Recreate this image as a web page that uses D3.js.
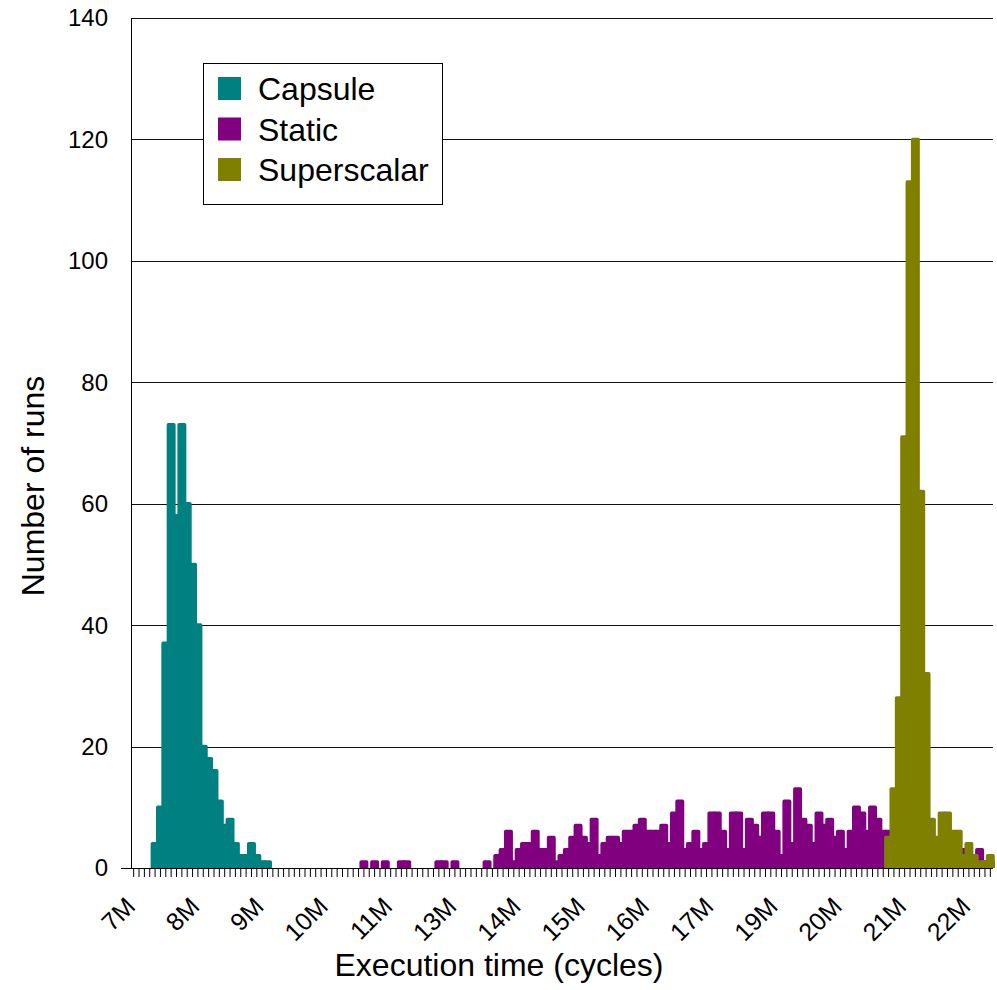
<!DOCTYPE html>
<html><head><meta charset="utf-8">
<script src="https://cdn.jsdelivr.net/npm/d3@7/dist/d3.min.js"></script>
<style>body{margin:0;background:#fff;} text{font-family:"Liberation Sans", Arial, sans-serif;fill:#000;}</style>
</head><body><svg id="chart" width="997" height="990"></svg>
<script>
// ---- data ----
const binStartM = 7.0;      // first bin start, millions of cycles
const binWidthM = 0.1;      // bin width, millions of cycles
const binCount = 161;
const categories = d3.range(binCount).map(i => (binStartM + i * binWidthM).toFixed(1));

const capsule = [
  0,0,0,0,4,10,37,73,58,73, 60,50,40,20,18,16,11,7,8,4,
  2,2,4,2,1,1,0,0,0,0, 0,0,0,0,0,0,0,0,0,0,
  0,0,0,0,0,0,0,0,0,0, 0,0,0,0,0,0,0,0,0,0,
  0,0,0,0,0,0,0,0,0,0, 0,0,0,0,0,0,0,0,0,0,
  0,0,0,0,0,0,0,0,0,0, 0,0,0,0,0,0,0,0,0,0,
  0,0,0,0,0,0,0,0,0,0, 0,0,0,0,0,0,0,0,0,0,
  0,0,0,0,0,0,0,0,0,0, 0,0,0,0,0,0,0,0,0,0,
  0,0,0,0,0,0,0,0,0,0, 0,0,0,0,0,0,0,0,0,0,
  0
];
const staticRuns = [
  0,0,0,0,0,0,0,0,0,0, 0,0,0,0,0,0,0,0,0,0,
  0,0,0,0,0,0,0,0,0,0, 0,0,0,0,0,0,0,0,0,0,
  0,0,0,1,0,1,0,1,0,0, 1,1,0,0,0,0,0,1,1,0,
  1,0,0,0,0,0,1,0,2,3, 6,1,3,4,4,6,3,3,5,1,
  2,3,5,7,5,4,8,2,4,5, 5,4,6,6,7,8,6,6,6,7,
  4,9,11,3,4,6,3,4,9,9, 6,3,9,9,3,8,7,5,9,9,
  6,2,11,4,13,8,7,4,9,7, 8,5,6,3,6,10,9,6,10,8,
  6,6,5,4,6,3,5,4,5,3, 4,5,3,4,2,3,2,1,3,1,
  1
];
const superscalar = [
  0,0,0,0,0,0,0,0,0,0, 0,0,0,0,0,0,0,0,0,0,
  0,0,0,0,0,0,0,0,0,0, 0,0,0,0,0,0,0,0,0,0,
  0,0,0,0,0,0,0,0,0,0, 0,0,0,0,0,0,0,0,0,0,
  0,0,0,0,0,0,0,0,0,0, 0,0,0,0,0,0,0,0,0,0,
  0,0,0,0,0,0,0,0,0,0, 0,0,0,0,0,0,0,0,0,0,
  0,0,0,0,0,0,0,0,0,0, 0,0,0,0,0,0,0,0,0,0,
  0,0,0,0,0,0,0,0,0,0, 0,0,0,0,0,0,0,0,0,0,
  0,5,13,28,71,113,120,62,32,8, 5,9,9,6,6,2,4,2,1,1,
  2
];
const seriesNames = ["Capsule", "Static", "Superscalar"];
const seriesColors = ["#008080", "#800080", "#808000"];
const yTicks = [0, 20, 40, 60, 80, 100, 120, 140];
const xTickLabels = ["7M","8M","9M","10M","11M","13M","14M","15M","16M","17M","19M","20M","21M","22M"];
const xLabelEvery = 12;   // one label every 12 bins
const yTitle = "Number of runs";
const xTitle = "Execution time (cycles)";

// ---- layout ----
const svg = d3.select("#chart");
const mLeft = 131, mRight = 993, mTop = 18, mBottom = 868;
const x = d3.scaleBand().domain(categories).range([mLeft, mRight]).padding(0);
const y = d3.scaleLinear().domain([0, 140]).range([mBottom, mTop]);
const bw = x.bandwidth();

// grid
svg.append("g").selectAll("line").data(yTicks.filter(d => d > 0)).join("line")
  .attr("x1", mLeft).attr("x2", mRight)
  .attr("y1", d => Math.round(y(d)) + 0.5).attr("y2", d => Math.round(y(d)) + 0.5)
  .attr("stroke", "#111").attr("stroke-width", 1);

// bars
svg.append("defs").append("clipPath").attr("id", "clipBase")
  .append("rect").attr("x", 0).attr("y", 0).attr("width", 997).attr("height", mBottom);
const series = [capsule, staticRuns, superscalar];
const gBars = svg.append("g").attr("clip-path", "url(#clipBase)");
series.forEach((vals, si) => {
  gBars.append("g").selectAll("rect")
    .data(vals.map((v, i) => ({cat: categories[i], v})).filter(d => d.v > 0))
    .join("rect")
    .attr("x", d => x(d.cat)).attr("width", bw)
    .attr("y", d => y(d.v)).attr("height", d => mBottom - y(d.v))
    .attr("fill", seriesColors[si])
    .attr("stroke", seriesColors[si]).attr("stroke-width", 3.6)
    .attr("stroke-linejoin", "round");
});

// axes
svg.append("line").attr("x1", mLeft + 0.5).attr("x2", mLeft + 0.5).attr("y1", mTop).attr("y2", mBottom)
  .attr("stroke", "#000");
svg.append("line").attr("x1", mLeft - 10).attr("x2", mRight).attr("y1", mBottom + 0.5).attr("y2", mBottom + 0.5)
  .attr("stroke", "#000");
svg.append("g").selectAll("line").data(categories).join("line")
  .attr("x1", d => x(d) + bw / 2).attr("x2", d => x(d) + bw / 2)
  .attr("y1", mBottom).attr("y2", mBottom + 9)
  .attr("stroke", "#000").attr("stroke-width", 1);

// y tick labels
svg.append("g").selectAll("text").data(yTicks).join("text")
  .attr("x", 108).attr("y", d => y(d)).attr("dy", "0.35em")
  .attr("text-anchor", "end").attr("font-size", 24).text(d => d);

// x tick labels
svg.append("g").selectAll("text").data(xTickLabels).join("text")
  .attr("text-anchor", "end").attr("font-size", 25)
  .attr("transform", (d, i) => {
    const c = categories[i * xLabelEvery];
    return `translate(${x(c) + bw / 2 + 3},${908}) rotate(-45)`;
  })
  .text(d => d);

// titles
svg.append("text").attr("x", 499).attr("y", 976).attr("text-anchor", "middle")
  .attr("font-size", 32).text(xTitle);
svg.append("text").attr("transform", "translate(44,486) rotate(-90)").attr("text-anchor", "middle")
  .attr("font-size", 32).text(yTitle);

// legend
const lg = svg.append("g");
lg.append("rect").attr("x", 203.5).attr("y", 63.5).attr("width", 239).attr("height", 141)
  .attr("fill", "#fff").attr("stroke", "#000");
seriesNames.forEach((n, i) => {
  lg.append("rect").attr("x", 218).attr("y", 77 + i * 40.5).attr("width", 23).attr("height", 23)
    .attr("fill", seriesColors[i]);
  lg.append("text").attr("x", 258).attr("y", 100 + i * 40.5).attr("font-size", 32).text(n);
});
</script></body></html>
